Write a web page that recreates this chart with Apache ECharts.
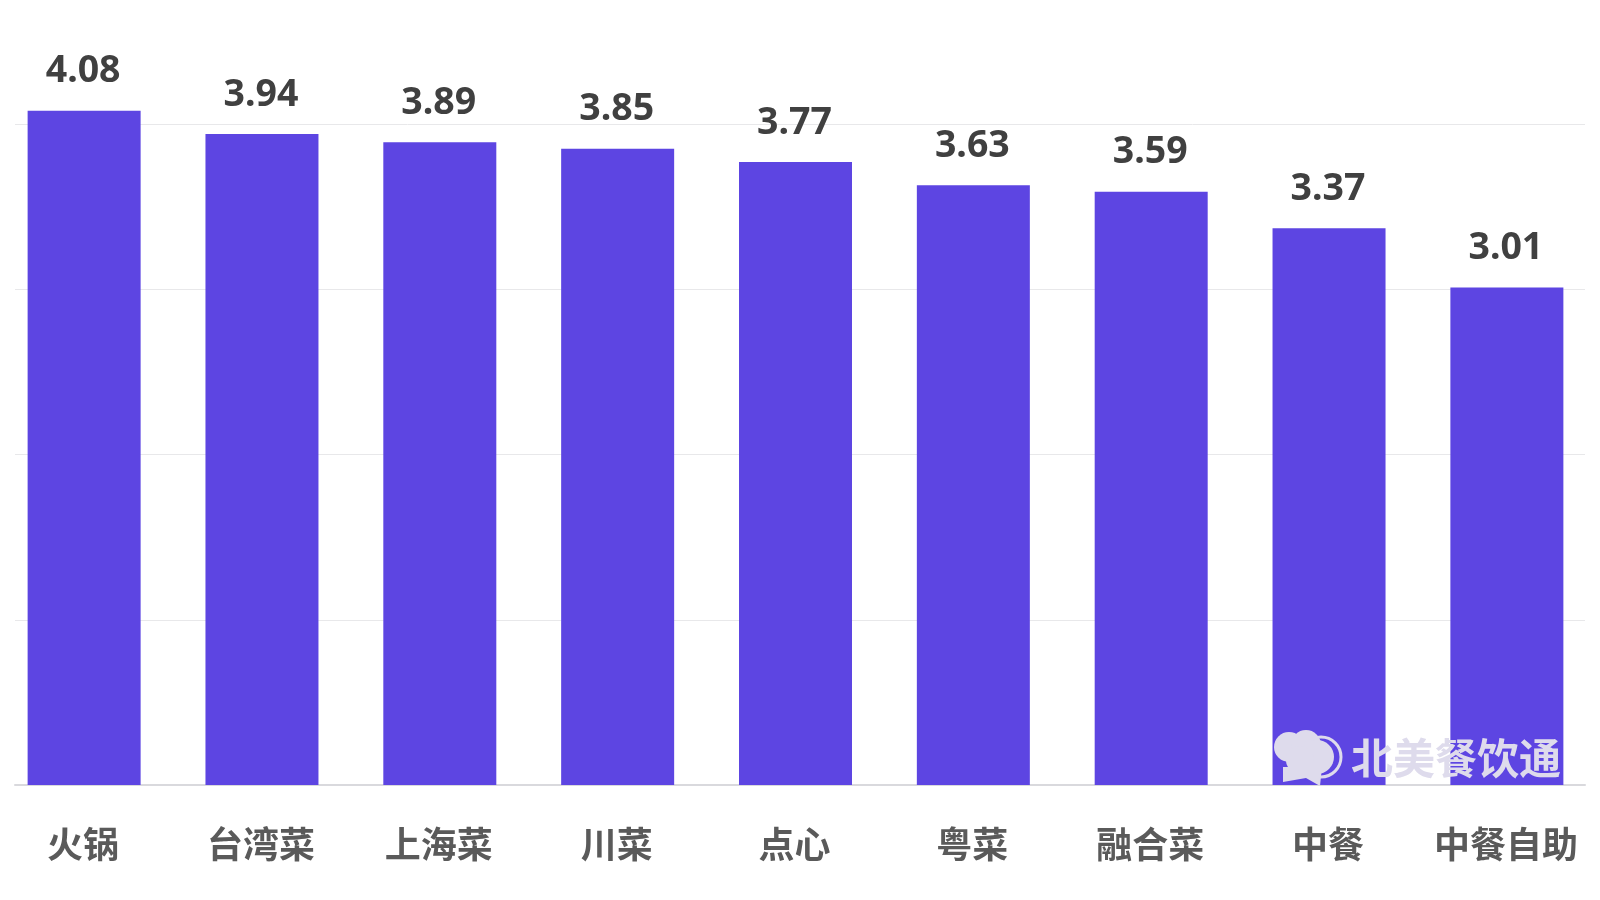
<!DOCTYPE html>
<html><head><meta charset="utf-8">
<style>html,body{margin:0;padding:0;background:#fff}#c{width:1600px;height:900px}</style>
<script src="https://cdn.jsdelivr.net/npm/echarts@6/dist/echarts.min.js"></script></head>
<body><div id="c"></div>
<script>
const categories=['火锅','台湾菜','上海菜','川菜','点心','粤菜','融合菜','中餐','中餐自助'];
const values=[4.08,3.94,3.89,3.85,3.77,3.63,3.59,3.37,3.01];
const gridMax=4, gridStep=1, barMax=4.5;
const font='"Noto Sans CJK SC"';
const wm='#dedbec';
const chart=echarts.init(document.getElementById('c'));
chart.setOption({
 animation:false,
 grid:[
  {left:-4.8,width:1600.6,top:41.4,bottom:115,outerBoundsMode:'none'},
  {left:15,right:15,top:124,bottom:115,outerBoundsMode:'none'}
 ],
 xAxis:[
  {type:'category',gridIndex:0,data:categories,axisTick:{show:false},axisLine:{show:false},
   axisLabel:{color:'#5a5a5a',fontSize:36,fontWeight:'bold',fontFamily:font,margin:41,interval:0,padding:[0,2,0,0]}},
  {type:'category',gridIndex:1,data:categories,axisTick:{show:false},axisLabel:{show:false},
   axisLine:{lineStyle:{color:'#d9d9dd',width:2}}}
 ],
 yAxis:[
  {type:'value',gridIndex:0,min:0,max:barMax,show:false},
  {type:'value',gridIndex:1,min:0,max:gridMax,interval:gridStep,axisLabel:{show:false},axisLine:{show:false},axisTick:{show:false},
   splitLine:{lineStyle:{color:'#e8e8ea',width:1}}}
 ],
 series:[{type:'bar',xAxisIndex:0,yAxisIndex:0,data:values,barWidth:113,z:3,itemStyle:{color:'#5d45e2'},
  label:{show:true,position:'top',distance:20,color:'#404040',fontSize:37.5,fontWeight:'bold',fontFamily:'"Noto Sans"',padding:[0,2,0,0],formatter:p=>p.value.toFixed(2)}}],
 graphic:[
  {type:'text',x:1351,y:737,z:10,style:{text:'北美餐饮通',fill:wm,font:'bold 42px "Noto Sans CJK SC"'}},
  {type:'group',z:10,children:[
   {type:'circle',z:10,shape:{cx:1289,cy:747,r:15},style:{fill:wm}},
   {type:'circle',z:10,shape:{cx:1306,cy:745,r:15},style:{fill:wm}},
   {type:'circle',z:10,shape:{cx:1321,cy:757,r:20},style:{fill:'none',stroke:wm,lineWidth:3}},
   {type:'circle',z:10,shape:{cx:1317,cy:757,r:17},style:{fill:wm}},
   {type:'circle',z:10,shape:{cx:1300,cy:760,r:14},style:{fill:wm}},
   {type:'polygon',z:10,shape:{points:[[1283,767],[1322,767],[1320,786],[1306,778],[1283,782]]},style:{fill:wm}}
  ]}
 ]
});
</script></body></html>
